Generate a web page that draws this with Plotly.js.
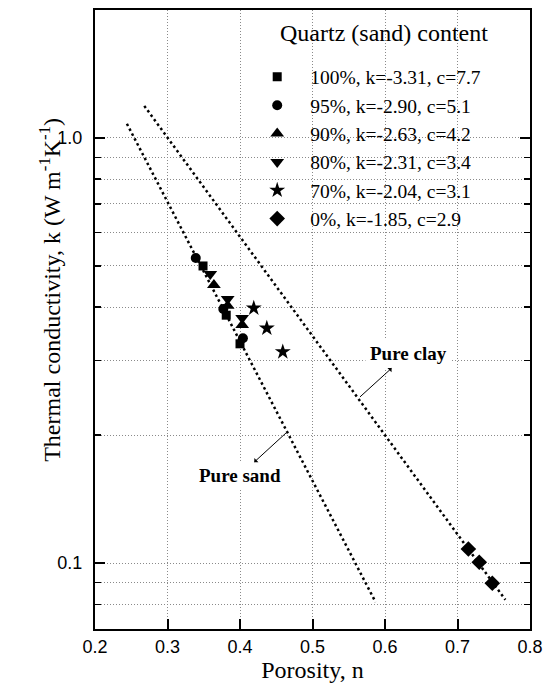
<!DOCTYPE html>
<html><head><meta charset="utf-8">
<script src="https://cdn.plot.ly/plotly-3.0.1.min.js"></script>
<style>html,body{margin:0;padding:0;background:#fff}#chart{width:552px;height:691px}</style>
</head><body><div id="chart"></div>
<script>
// Legend labels
const legendTitle = 'Quartz (sand) content';
const seriesNames = ['100%, k=-3.31, c=7.7', '95%, k=-2.90, c=5.1', '90%, k=-2.63, c=4.2',
                     '80%, k=-2.31, c=3.4', '70%, k=-2.04, c=3.1', '0%, k=-1.85, c=2.9'];
// Porosity (n) and thermal conductivity (k) per quartz content
const q100N = [0.349, 0.381, 0.400];  const q100K = [0.500, 0.383, 0.328];
const q95N  = [0.339, 0.377, 0.404];  const q95K  = [0.522, 0.396, 0.338];
const q90N  = [0.364, 0.383, 0.403];  const q90K  = [0.451, 0.403, 0.363];
const q80N  = [0.359, 0.383, 0.403];  const q80K  = [0.479, 0.418, 0.377];
const q70N  = [0.419, 0.437, 0.459];  const q70K  = [0.398, 0.357, 0.314];
const q0N   = [0.715, 0.730, 0.748];  const q0K   = [0.108, 0.1005, 0.0897];
// Reference lines (end points)
const sandLineN = [0.244, 0.587];  const sandLineK = [1.08, 0.081];
const clayLineN = [0.268, 0.766];  const clayLineK = [1.19, 0.082];
// Tick labels
const xTickFormat = '.1f';
const yTickVals = [0.1, 1.0];
const yTickText = ['0.1', '1.0'];
const yMinorVals = [0.07, 0.08, 0.09, 0.2, 0.3, 0.4, 0.5, 0.6, 0.7, 0.8, 0.9, 2.0];

const serif = 'Liberation Serif, Times New Roman, serif';
const sans = 'Liberation Sans, Arial, sans-serif';
const dotted = {color: 'black', width: 2.5, dash: '2.5px,3px'};

const seriesData = [
  [q100N, q100K, 'square', 9],
  [q95N, q95K, 'circle', 10],
  [q90N, q90K, 'triangle-up', 12],
  [q80N, q80K, 'triangle-down', 12],
  [q70N, q70K, 'star', 12],
  [q0N, q0K, 'diamond', 12]
];

const traces = [
  {x: sandLineN, y: sandLineK, mode: 'lines', line: dotted, showlegend: false, hoverinfo: 'skip'},
  {x: clayLineN, y: clayLineK, mode: 'lines', line: dotted, showlegend: false, hoverinfo: 'skip'}
];
seriesData.forEach((s, i) => {
  traces.push({
    x: s[0], y: s[1], mode: 'markers', name: seriesNames[i], legendgroup: 'g' + i,
    marker: {symbol: s[2], size: s[3], color: 'black', line: {width: 0}}
  });
});

const gridCol = '#8a8a8a';
const gridDash = '1px,2px';
const layout = {
  width: 552, height: 691,
  margin: {l: 95, r: 22, t: 10, b: 62},
  paper_bgcolor: 'white', plot_bgcolor: 'white',
  showlegend: true,
  xaxis: {
    range: [0.2, 0.8], tick0: 0.2, dtick: 0.1, tickformat: xTickFormat,
    ticks: 'inside', ticklen: 10, tickwidth: 2, tickcolor: 'black',
    showline: true, linewidth: 2, linecolor: 'black', mirror: true,
    showgrid: true, gridcolor: gridCol, griddash: gridDash, gridwidth: 1,
    zeroline: false,
    tickfont: {family: sans, size: 18, color: 'black'},
    title: {text: 'Porosity, n', font: {family: serif, size: 24, color: 'black'}, standoff: 6}
  },
  yaxis: {
    type: 'log', range: [Math.log10(0.07), Math.log10(2)],
    tickmode: 'array', tickvals: yTickVals, ticktext: yTickText,
    ticks: 'inside', ticklen: 10, tickwidth: 2, tickcolor: 'black', ticklabelstandoff: 7,
    showline: true, linewidth: 2, linecolor: 'black', mirror: 'ticks',
    showgrid: true, gridcolor: gridCol, griddash: gridDash, gridwidth: 1,
    zeroline: false,
    tickfont: {family: sans, size: 18, color: 'black'},
    minor: {tickmode: 'array', tickvals: yMinorVals, ticks: 'inside', ticklen: 6,
            tickwidth: 1.5, tickcolor: 'black', showgrid: true, gridcolor: gridCol,
            griddash: gridDash, gridwidth: 1}
  },
  legend: {
    x: 0.343, xanchor: 'left', y: 0.923, yanchor: 'top',
    bgcolor: 'rgba(0,0,0,0)', borderwidth: 0,
    font: {family: serif, size: 19.5, color: 'black'},
    traceorder: 'grouped', tracegroupgap: 0, itemwidth: 56
  },
  shapes: [
    {type: 'rect', xref: 'x', yref: 'paper', x0: 0.389, x1: 0.793, y0: 0.632, y1: 0.943,
     fillcolor: 'white', line: {width: 0}, layer: 'between'},
    {type: 'rect', xref: 'x', yref: 'paper', x0: 0.427, x1: 0.793, y0: 0.94, y1: 1,
     fillcolor: 'white', line: {width: 0}, layer: 'between'}
  ],
  annotations: [
    {text: legendTitle, xref: 'paper', yref: 'paper', x: 0.4207, y: 0.963,
     xanchor: 'left', yanchor: 'middle', showarrow: false,
     font: {family: serif, size: 24, color: 'black'}},
    {text: 'Thermal conductivity, k (W m<sup>-1</sup>K<sup>-1</sup>)', xref: 'paper', yref: 'paper',
     x: -0.1425, y: 0.548, textangle: -90, showarrow: false,
     font: {family: serif, size: 24, color: 'black'}},
    {text: '<b>Pure clay</b>', xref: 'x', yref: 'y', x: 0.5655, y: -0.609,
     axref: 'x', ayref: 'y', ax: 0.632, ay: -0.506, showarrow: true, arrowside: 'start',
     arrowhead: 2, arrowsize: 1.3, arrowwidth: 1, arrowcolor: 'black',
     font: {family: serif, size: 19, color: 'black'}, bgcolor: 'white', borderpad: 4},
    {text: '<b>Pure sand</b>', xref: 'x', yref: 'y', x: 0.4634, y: -0.694,
     axref: 'x', ayref: 'y', ax: 0.4, ay: -0.793, showarrow: true, arrowside: 'start',
     arrowhead: 2, arrowsize: 1.3, arrowwidth: 1, arrowcolor: 'black',
     font: {family: serif, size: 19, color: 'black'}, bgcolor: 'white', borderpad: 2}
  ]
};

function cleanEmptyTexts() {
  // drop empty placeholder text nodes Plotly leaves behind (unused titles, measuring nodes)
  document.querySelectorAll('text').forEach(function (t) {
    if (!t.textContent || !t.textContent.trim()) t.remove();
  });
  document.querySelectorAll('.js-plotly-tester text, .js-plotly-tester tspan').forEach(function (t) {
    t.remove();
  });
}
Plotly.newPlot('chart', traces, layout, {staticPlot: true, displayModeBar: false}).then(cleanEmptyTexts);
</script>
</body></html>
